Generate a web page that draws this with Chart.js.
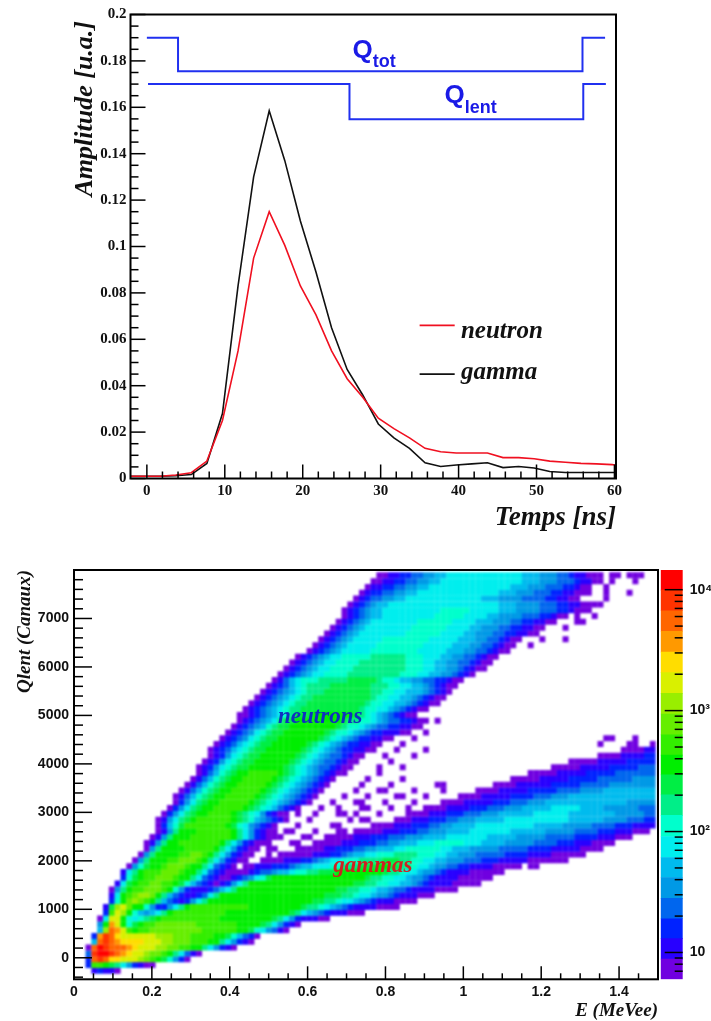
<!DOCTYPE html>
<html>
<head>
<meta charset="utf-8">
<title>Neutron gamma discrimination</title>
<script src="https://cdn.jsdelivr.net/npm/chart.js@4/dist/chart.umd.min.js"></script>
<style>
    html, body { margin: 0; padding: 0; background: #fff; overflow: hidden; }
    canvas { position: absolute; }
    #pulseChart { left: 0; top: 0; filter: blur(0.4px); }
    #heatChart { left: 0; top: 545px; filter: blur(0.8px); }
    #heatAxes { left: 0; top: 545px; filter: blur(0.3px); }
    #scaleChart { left: 650px; top: 545px; filter: blur(0.3px); }
</style>
</head>
<body>
<canvas id="pulseChart" width="711" height="540"></canvas>
<canvas id="heatChart" width="660" height="476"></canvas>
<canvas id="heatAxes" width="660" height="476"></canvas>
<canvas id="scaleChart" width="61" height="476"></canvas>
<script>
// Top panel: mean pulse shapes
const times = [-2.1, -0.3, 1.7, 3.7, 5.7, 7.7, 9.7, 11.7, 13.7, 15.7, 17.7, 19.7, 21.7, 23.7, 25.7, 27.7, 29.7,
    31.7, 33.7, 35.7, 37.7, 39.7, 41.7, 43.7, 45.7, 47.7, 49.7, 51.7, 53.7, 55.7, 57.7, 59.7, 60.2];
const neutronAmp = [0.001, 0.001, 0.001, 0.0015, 0.0025, 0.0075, 0.025, 0.055, 0.095, 0.115, 0.1005, 0.083, 0.0705,
    0.055, 0.043, 0.035, 0.026, 0.0215, 0.0175, 0.013, 0.0115, 0.011, 0.011, 0.011, 0.009, 0.009, 0.0085, 0.0075,
    0.007, 0.0065, 0.0063, 0.006, 0.0057];
const gammaAmp = [0.001, 0.001, 0.001, 0.0012, 0.0017, 0.0065, 0.028, 0.083, 0.13, 0.1585, 0.137, 0.111, 0.089,
    0.065, 0.047, 0.036, 0.0235, 0.0175, 0.013, 0.0068, 0.0052, 0.0058, 0.0063, 0.0068, 0.0047, 0.0052, 0.0045,
    0.003, 0.0026, 0.0026, 0.0026, 0.0026, 0.0026];

// integration gates
const qTotTimes = [0, 4, 4, 55.9, 55.9, 58.8];
const qTotAmp = [0.19, 0.19, 0.1755, 0.1755, 0.19, 0.19];
const qLentTimes = [0.15, 26, 26, 56, 56, 58.9];
const qLentAmp = [0.17, 0.17, 0.1548, 0.1548, 0.17, 0.17];

const timeTicks = [0, 10, 20, 30, 40, 50, 60];
const timeMinor = [2, 4, 6, 8, 12, 14, 16, 18, 22, 24, 26, 28, 32, 34, 36, 38, 42, 44, 46, 48, 52, 54, 56, 58];
const ampTicks = [0, 0.02, 0.04, 0.06, 0.08, 0.1, 0.12, 0.14, 0.16, 0.18, 0.2];
const ampMinor = [0.005, 0.01, 0.015, 0.025, 0.03, 0.035, 0.045, 0.05, 0.055, 0.065, 0.07, 0.075, 0.085, 0.09, 0.095,
    0.105, 0.11, 0.115, 0.125, 0.13, 0.135, 0.145, 0.15, 0.155, 0.165, 0.17, 0.175, 0.185, 0.19, 0.195];

// Bottom panel: E / Qlent histogram
const energyTicks = [0, 0.2, 0.4, 0.6, 0.8, 1, 1.2, 1.4];
const energyMinor = [0.05, 0.1, 0.15, 0.25, 0.3, 0.35, 0.45, 0.5, 0.55, 0.65, 0.7, 0.75, 0.85, 0.9, 0.95, 1.05, 1.1,
    1.15, 1.25, 1.3, 1.35, 1.45];
const qlentTicks = [0, 1000, 2000, 3000, 4000, 5000, 6000, 7000];
const qlentMinor = [-400, -200, 200, 400, 600, 800, 1200, 1400, 1600, 1800, 2200, 2400, 2600, 2800, 3200, 3400, 3600,
    3800, 4200, 4400, 4600, 4800, 5200, 5400, 5600, 5800, 6200, 6400, 6600, 6800, 7200, 7400, 7600, 7800];
const countTicks = [10, 100, 1000, 10000];
const countLabels = ["10", "10²", "10³", "10⁴"];
const countMinor = [7, 8, 9, 20, 30, 40, 50, 60, 70, 80, 90, 200, 300, 400, 500, 600, 700, 800, 900, 2000, 3000, 4000,
    5000, 6000, 7000, 8000, 9000];

// colour bands of the scale: edges in counts, then colour of each band
const bandEdges = [6, 8.8, 13, 19, 28, 41.7, 61, 91, 136, 201, 294, 428, 630, 938, 1390, 2060, 3050, 4530, 6700, 9930, 14550];
const bandColors = ["#7000e0", "#2800ff", "#0022ff", "#0066ee", "#0099e6", "#00bbee", "#00eeee", "#00ffcc", "#00ee88",
    "#00ee44", "#00ee00", "#33ee00", "#66ee00", "#99ee00", "#d9f000", "#ffdd00", "#ff9900", "#ff6600", "#ff3300", "#ff0000"];

// histogram bins
const energyStep = 0.015;
const qlentStep = 120;
const qlentStart = -450;
// one string per Qlent bin, bottom up. "col:cells", a = lowest colour band ... t = highest
const heatRows = [
    "",
    "3:bcbb 7:a",
    "2:cllkjigecbaa",
    "2:crsrppooonmlkjheca",
    "2:dsttsrqpoonmmlkigdba",
    "2:artsrrrqpooonnmmllkkigecba",
    "3:frsrqppppooonnmmmlllkkigecba",
    "3:cqsrpoooooonnnmmmllllkkjhfdca",
    "4:fnrqolkllmmmmmmmmmllllllkkjhgedba",
    "4:ekqokhjkllmmmmmmmlllllllkkkkjigecba",
    "4:agookhghijkllllllllllkkkkkkkkkjigecbbbaa",
    "5:clonkhfefgiklllllllllkkkkkkkkkkkjigfedcbbbaaa",
    "5:bjnomkkheccegikllllllllllkkkkkkkkkjiihgfedcbbbbaaaa",
    "6:chkmnmlkifdcbcegikkkkkkkkkkkkkkkkkkjjiihggfedcbbbaaaa",
    "6:bgklmnnmkifdcbbcdgikkkkkkkkkkkkkkkkkkjjjiihggfeedcbbbaaa",
    "6:aeikllmmmlkhecbbbcdfgikkkkkkkkkkkkkkkkkjjiihhgffeddcbbbbaaaa",
    "7:bgjkllmmllkjhfdcbabcegikkkkkkkkkkkkkkkkkkjjiihhggffedcbbbbaaaaa",
    "8:chjkllmmmlkkigdcbaabcdeghjkkkkkkkkkkkkkkkkjiihhggfeedcbbbbaaaaaa",
    "8:bgiklllmmmlkkigdcbaaaabcddeffghhiijjjkkkkkkkkjiihggfeedcbbbbaaaaaa",
    "9:aehjkklmmmlkkigdcba 29:aa 31:bbbcccdeffggghhiiijjjkkjjiihggfeeddccbbbbaaaaa 78:aa",
    "10:aeikkkllmmmlkigecbaa 32:aaaabbbccdefgghhhiiiijjjiihhggffeeedddcccbbbbbaaaaaaa",
    "11:aeikkkkllmmlkigecbaa 33:a 35:aaaaaabbbccdeffgghhhiiiihhhggffeeedddddccccbbbbaaaaaa",
    "12:aeikkkklllllkigecbaa 33:aa 38:aaaaabbcccddeefffgghhhhhhggfffeeeeedddddccccbbbbbaaaa",
    "12:abeikklllllllkigecbaa 33:a 37:aa 41:aaaaabbbcccddeefffggghhhhhgggffffeeeeeddddcccbbbaaaa",
    "13:abeikkklllllllkigecbaa 35:a 39:aa 43:aaaaabbbcccdddeeeffffgggggggfffffeeeeedddddccccbbbaaa",
    "14:abeikkkllllllkigecbaa 36:aa 41:a 45:aa 48:aaaaa 53:bbbcccddeeeffffgggggggffffffeeeeeddddcccbbbaaa",
    "14:acfhjlllllllkjhgedcba 38:a 44:aa 51:aaaabbbcccddeeffffggggggggggfffffeeeeeddddcccbbbb",
    "14:abegijkllllllkjihfedcba 40:a 47:a 49:aa 55:aaabbbcccddeeefffffgggggggggggffffffeeeedddcc",
    "15:acegijkkllllkjihgecbaa 38:a 41:a 45:aa 48:a 52:a 57:aaaabbbcccdddeeeffffffggggggffffffffeeeeedd",
    "16:acegijkklllllkjihgfdcba 42:a 45:a 49:aa 54:a 57:a 60:aaaabbbbcccdddeeefffffgggggffffeeeeeeddd",
    "17:acegijkklllllkjihgfedcba 44:a 48:aa 53:a 58:a 63:aaaabbbbbcccdddeeeffffffffffffffeeeee",
    "17:abdfhijkklllllkjihgfedcba 46:a 50:a 55:aa 60:a 66:aaaabbbbbccccdddeeefffffffffffffff",
    "18:abdfhijkklllllkjihgfedcba 48:a 52:aa 58:a 63:a 69:aaaabbbbbcccccddddeeeefffffffff",
    "19:abdfhijkklllllkjihgfedcba 49:a 54:a 62:aa 72:aaaabbbbbbcccccdddddeeeeeeee",
    "20:abdfhijkklllllkjihgfedcba 50:a 56:a 75:aaaaabbbbbcccccddddddeeee",
    "21:abdfhijkklllllkjihgfedcbaa 52:a 78:aaaaabbbbbcccccddddddd",
    "21:abceghijjkkkkkkjihgfeddcbaa 52:a 56:a 82:aaaaabbbbbcccccddd",
    "22:abceghijjkkkkkkjihgfeddcbaa 54:a 85:aaaaabbbbbccccc",
    "23:abceghijjkkkkkkjihgfeddcbaa 53:a 58:a 90:aaaabbbbcc",
    "23:abcdfghijjkkkkkkjihgfedccbbaa 55:a 60:a 94:aaaabb",
    "24:abcdfghijjkkkkkkjihgfedccbbaa 56:a 90:a 95:aa 99:a",
    "25:abcdeghijjkkkkkkkjihgfedccbbaa 58:a 91:aa 96:a",
    "26:abcdeghijjkkkkkkkjihhgfedccbbbaa 60:a",
    "27:abcdefhijjkkkkkkkkjihhgfeddccbbaa",
    "28:abcdefgijjkkkkkkkkjiihhgfeddccbaa 62:a",
    "28:aabcdefghijjjkkkkkkkjihgfedcbaa",
    "29:abcdefghiijjjjjjjjjjihhggfedcbaa",
    "30:abcdefghiijjjjjjjjjjihhggffedcbaa",
    "31:abcdefghiijjjjjjjjjjihhggffedcbaa",
    "32:abcdefghiiijjjjjjjjiihhggfffedcba",
    "33:abcdfghiiiijjjjjjjiiihhggffedcbaa",
    "34:abdfghhhiiiiijjjjjihhgffeeddccbaa",
    "35:abcdefgghhhhiiiiiiiiihhhggffeedcba",
    "36:abcdefgghhhhiiiiiiiiihhhggffeedcbaa",
    "37:abcdefgghhhhiiiiiiiihhhggffeeddcbaa",
    "38:abcdefgghhhhhiiiiiihhhgggffeeddcbaa",
    "40:abcdefggggghhhhhhhhgggggfffeeddcbaa",
    "41:abcdefggggghhhhhhhhgggggfffeeddcbaa 78:a",
    "42:abcdefggggghhhhhhhhgggggfffeeddcbaa 80:a 84:a",
    "43:abcdefgggggggghhhhhhggggffeeeddccbbaa",
    "44:abcdefgggggggghhhhhhggggffeeeddccbbaa 84:a",
    "45:abcdefgggggggghhhhhhggggfffeeeddccbbaa 86:aa",
    "46:abcdeffggggggggghhhhhggggffeeeedddccbaa 86:a 89:a",
    "46:abcdeffgggggggggghhhhhgggggfffeeeedddccbaa 88:a",
    "47:abcdeffgggggggggggggggggggfffeeeedddccbbaa 89:aa",
    "48:abcddeeffgggggggggggggfffeeeeddddccbbaa 91:a",
    "49:abccddeeffggggggggggggggfffeeedddccbbaaa 91:a 95:a",
    "50:abbccddeeffggggggggggggggfffeeedddccbaa 91:a",
    "51:aabbccddeeffggggggggggggggfffeeedddcbbaa 92:a 96:a",
    "52:aabbccddeeffgggggggggggggfffeeeddcbbaaa 92:aa 95:aaa",
];

const SERIF = '"Liberation Serif", serif';
const SANS = '"Liberation Sans", sans-serif';

function pairs(xs, ys) {
    return xs.map((x, i) => ({ x: x, y: ys[i] }));
}

// frame and inward ticks the way ROOT draws them, plus text placed in data coordinates
const rootAxes = {
    id: "rootAxes",
    afterDatasetsDraw(chart, args, opts) {
        const ctx = chart.ctx;
        const area = chart.chartArea;
        ctx.save();
        ctx.strokeStyle = "#000";
        if (opts.frame) {
            ctx.lineWidth = 2;
            ctx.strokeRect(area.left, area.top, area.right - area.left, area.bottom - area.top);
        }
        ctx.lineWidth = 1.5;
        const tickX = (values, len) => values.forEach(v => {
            const px = chart.scales.x.getPixelForValue(v);
            ctx.beginPath();
            ctx.moveTo(px, area.bottom);
            ctx.lineTo(px, area.bottom - len);
            ctx.stroke();
        });
        const tickY = (values, len, side) => values.forEach(v => {
            const py = chart.scales.y.getPixelForValue(v);
            const edge = side === "right" ? area.right : area.left;
            const dir = side === "right" ? -1 : 1;
            ctx.beginPath();
            ctx.moveTo(edge, py);
            ctx.lineTo(edge + dir * len, py);
            ctx.stroke();
        });
        if (opts.xMajor) tickX(opts.xMajor, opts.xLen[0]);
        if (opts.xMinor) tickX(opts.xMinor, opts.xLen[1]);
        if (opts.yMajor) tickY(opts.yMajor, opts.yLen[0], opts.side);
        if (opts.yMinor) tickY(opts.yMinor, opts.yLen[1], opts.side);
        (opts.notes || []).forEach(n => {
            ctx.font = n.font;
            ctx.fillStyle = n.color;
            ctx.textAlign = "left";
            ctx.textBaseline = "alphabetic";
            ctx.fillText(n.text, chart.scales.x.getPixelForValue(n.x), chart.scales.y.getPixelForValue(n.y));
        });
        ctx.restore();
    },
};

function fixedTicks(values) {
    return scale => { scale.ticks = values.map(v => ({ value: v })); };
}

// Top chart
new Chart(document.getElementById("pulseChart"), {
    type: "line",
    plugins: [rootAxes],
    data: {
        datasets: [
            { data: pairs(qTotTimes, qTotAmp), borderColor: "#2030f0", borderWidth: 2 },
            { data: pairs(qLentTimes, qLentAmp), borderColor: "#2030f0", borderWidth: 2 },
            { data: pairs(times, neutronAmp), borderColor: "#f01020", borderWidth: 1.6 },
            { data: pairs(times, gammaAmp), borderColor: "#111", borderWidth: 1.6 },
            { data: pairs([35, 39.5], [0.066, 0.066]), borderColor: "#f01020", borderWidth: 1.6 },
            { data: pairs([35, 39.5], [0.045, 0.045]), borderColor: "#111", borderWidth: 1.6 },
        ],
    },
    options: {
        responsive: false,
        animation: false,
        elements: { point: { radius: 0 }, line: { tension: 0 } },
        layout: { padding: { top: 14.5, right: 95, left: 0, bottom: 0 } },
        plugins: {
            legend: { display: false },
            tooltip: { enabled: false },
            rootAxes: {
                frame: true,
                xMajor: timeTicks, xMinor: timeMinor, xLen: [14, 7],
                yMajor: ampTicks, yMinor: ampMinor, yLen: [15, 8],
                notes: [
                    { text: "Q", x: 26.4, y: 0.1813, font: "bold 26px " + SANS, color: "#1a1ae6" },
                    { text: "tot", x: 29, y: 0.1774, font: "bold 18px " + SANS, color: "#1a1ae6" },
                    { text: "Q", x: 38.2, y: 0.1618, font: "bold 26px " + SANS, color: "#1a1ae6" },
                    { text: "lent", x: 40.8, y: 0.1577, font: "bold 18px " + SANS, color: "#1a1ae6" },
                    { text: "neutron", x: 40.3, y: 0.0607, font: "italic bold 25px " + SERIF, color: "#111" },
                    { text: "gamma", x: 40.3, y: 0.0429, font: "italic bold 25px " + SERIF, color: "#111" },
                ],
            },
        },
        scales: {
            x: {
                type: "linear", min: -2.1, max: 60.2,
                afterBuildTicks: fixedTicks(timeTicks),
                afterFit: s => { s.height = 61.5; },
                grid: { display: false, drawTicks: false },
                border: { display: false },
                ticks: { color: "#111", padding: 4, maxRotation: 0, autoSkip: false, callback: v => String(v), font: { family: SERIF, size: 15, weight: "bold" } },
                title: {
                    display: true, text: "Temps [ns]", align: "end", color: "#111",
                    padding: { top: 0, bottom: 6 },
                    font: { family: SERIF, size: 27, weight: "bold", style: "italic" },
                },
            },
            y: {
                min: 0, max: 0.2,
                afterBuildTicks: fixedTicks(ampTicks),
                afterFit: s => { s.width = 130.5; },
                grid: { display: false, drawTicks: false },
                border: { display: false },
                ticks: { color: "#111", padding: 4, autoSkip: false, callback: v => String(v), font: { family: SERIF, size: 15, weight: "bold" } },
                title: {
                    display: true, text: "Amplitude [u.a.]\u00a0", align: "end", color: "#111",
                    padding: { top: 70, bottom: 0 },
                    font: { family: SERIF, size: 26, weight: "bold", style: "italic" },
                },
            },
        },
    },
});

// Bottom chart: one square point per filled bin
const heatPoints = [];
const heatColors = [];
heatRows.forEach((row, r) => {
    row.split(" ").filter(t => t.length > 0).forEach(tok => {
        const parts = tok.split(":");
        const start = parseInt(parts[0], 10);
        parts[1].split("").forEach((ch, i) => {
            heatPoints.push({ x: energyStep * (start + i + 0.5), y: qlentStart + qlentStep * (r + 0.5) });
            heatColors.push(bandColors[ch.charCodeAt(0) - 97]);
        });
    });
});

// same geometry for the cells canvas (softened) and the crisp axes canvas above it
function heatOptions(withAxes) {
    const tickColor = withAxes ? "#111" : "transparent";
    return {
        responsive: false,
        animation: false,
        layout: { padding: { top: 25, right: 2, left: 0, bottom: 0 } },
        plugins: {
            legend: { display: false },
            tooltip: { enabled: false },
            rootAxes: withAxes ? {
                frame: true,
                xMajor: energyTicks, xMinor: energyMinor, xLen: [13, 6],
                yMajor: qlentTicks, yMinor: qlentMinor, yLen: [18, 9],
                notes: [
                    { text: "neutrons", x: 0.524, y: 4835, font: "italic bold 23px " + SERIF, color: "#1030c0" },
                    { text: "gammas", x: 0.666, y: 1763, font: "italic bold 23px " + SERIF, color: "#cc2222" },
                ],
            } : {},
        },
        scales: {
            x: {
                type: "linear", min: 0, max: 1.5,
                afterBuildTicks: fixedTicks(energyTicks),
                afterFit: s => { s.height = 41.7; },
                grid: { display: false, drawTicks: false },
                border: { display: false },
                ticks: { color: tickColor, padding: 4, maxRotation: 0, autoSkip: false, callback: v => String(v), font: { family: SANS, size: 14, weight: "bold" } },
                title: {
                    display: withAxes, text: "E (MeVee)", align: "end", color: "#111",
                    padding: 0,
                    font: { family: SERIF, size: 19, weight: "bold", style: "italic", lineHeight: 1 },
                },
            },
            y: {
                min: -444, max: 8000,
                afterBuildTicks: fixedTicks(qlentTicks),
                afterFit: s => { s.width = 74; },
                grid: { display: false, drawTicks: false },
                border: { display: false },
                ticks: { color: tickColor, padding: 5, autoSkip: false, callback: v => String(v), font: { family: SANS, size: 14, weight: "bold" } },
                title: {
                    display: withAxes, text: "Qlent (Canaux)", align: "end", color: "#111",
                    padding: { top: 14, bottom: 0 },
                    font: { family: SERIF, size: 19, weight: "bold", style: "italic" },
                },
            },
        },
    };
}

new Chart(document.getElementById("heatChart"), {
    type: "scatter",
    data: {
        datasets: [{
            data: heatPoints,
            pointStyle: "rect",
            pointRadius: 4.25,
            pointBorderWidth: 0,
            pointBackgroundColor: heatColors,
        }],
    },
    options: heatOptions(false),
});

new Chart(document.getElementById("heatAxes"), {
    type: "scatter",
    plugins: [rootAxes],
    data: { datasets: [{ data: [] }] },
    options: heatOptions(true),
});

// Colour scale: floating bars on a log axis
new Chart(document.getElementById("scaleChart"), {
    type: "bar",
    plugins: [rootAxes],
    data: {
        labels: [""],
        datasets: bandColors.map((color, i) => ({
            data: [[bandEdges[i], bandEdges[i + 1]]],
            backgroundColor: color,
            barPercentage: 1,
            categoryPercentage: 1,
            grouped: false,
        })),
    },
    options: {
        responsive: false,
        animation: false,
        layout: { padding: { top: 25, left: 10.7, right: 0, bottom: 41.7 } },
        plugins: {
            legend: { display: false },
            tooltip: { enabled: false },
            rootAxes: { side: "right", yMajor: countTicks, yMinor: countMinor, yLen: [18, 8] },
        },
        scales: {
            x: { display: false },
            y: {
                type: "logarithmic", position: "right", min: 6, max: 14550,
                afterBuildTicks: fixedTicks(countTicks),
                afterFit: s => { s.width = 28.3; },
                grid: { display: false, drawTicks: false },
                border: { display: false },
                ticks: {
                    color: "#111", padding: 7, autoSkip: false,
                    callback: v => countLabels[countTicks.indexOf(v)],
                    font: { family: SANS, size: 14, weight: "bold" },
                },
            },
        },
    },
});
</script>
</body>
</html>
